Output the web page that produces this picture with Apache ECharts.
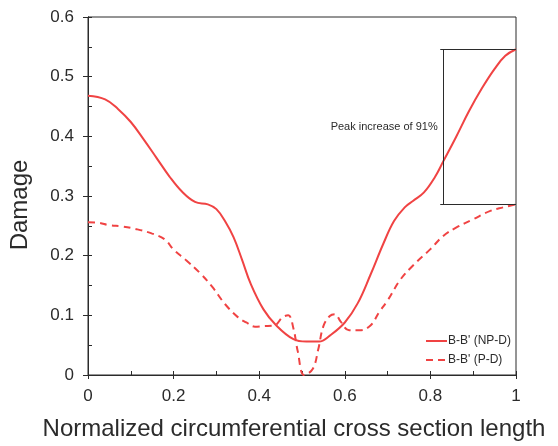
<!DOCTYPE html>
<html>
<head>
<meta charset="utf-8">
<script src="https://cdn.jsdelivr.net/npm/echarts@6/dist/echarts.min.js"></script>
<style>
  html, body { margin: 0; padding: 0; background: #fff; }
  #chart { width: 558px; height: 446px; }
</style>
</head>
<body>
<div id="chart"></div>
<script>
// Damage along the normalized circumferential cross section [x, damage]
const npdPoints = [
  [0, 0.468], [0.04, 0.462], [0.07, 0.446], [0.1, 0.424], [0.13, 0.395],
  [0.16, 0.364], [0.19, 0.333], [0.22, 0.307], [0.25, 0.29], [0.28, 0.286],
  [0.3, 0.278], [0.32, 0.258], [0.34, 0.231], [0.36, 0.193], [0.38, 0.153],
  [0.41, 0.11], [0.44, 0.083], [0.48, 0.06], [0.51, 0.056], [0.54, 0.056],
  [0.565, 0.066], [0.6, 0.088], [0.63, 0.12], [0.66, 0.168], [0.69, 0.22],
  [0.715, 0.258], [0.74, 0.281], [0.76, 0.292], [0.785, 0.306], [0.81, 0.331],
  [0.83, 0.358], [0.86, 0.399], [0.89, 0.442], [0.92, 0.48], [0.95, 0.513],
  [0.975, 0.535], [1.0, 0.546]
];
const pdPoints = [
  [0, 0.256], [0.025, 0.255], [0.05, 0.251], [0.08, 0.249], [0.11, 0.245],
  [0.15, 0.237], [0.18, 0.227], [0.2, 0.21], [0.23, 0.192], [0.26, 0.172],
  [0.29, 0.148], [0.32, 0.119], [0.35, 0.097], [0.37, 0.088], [0.39, 0.081],
  [0.41, 0.082], [0.435, 0.083], [0.455, 0.097], [0.468, 0.1], [0.48, 0.078],
  [0.49, 0.04], [0.505, 0], [0.525, 0.01], [0.538, 0.043], [0.55, 0.082],
  [0.565, 0.099], [0.577, 0.102], [0.59, 0.09], [0.61, 0.075], [0.635, 0.075],
  [0.66, 0.083], [0.68, 0.105], [0.7, 0.125], [0.73, 0.16], [0.76, 0.184],
  [0.8, 0.211], [0.83, 0.233], [0.86, 0.247], [0.9, 0.261], [0.94, 0.275],
  [0.97, 0.281], [1.0, 0.286]
];
const seriesNames = ["B-B' (NP-D)", "B-B' (P-D)"];

// Peak comparison bracket
const peakNPD = 0.546;
const peakPD = 0.286;
const bracketX = 0.831;
const bracketCapX = 0.823;
const peakLabel = 'Peak increase of 91%';

const xTicks = [0, 0.2, 0.4, 0.6, 0.8, 1];
const yTicks = [0, 0.1, 0.2, 0.3, 0.4, 0.5, 0.6];

const RED = '#f04343';
const INK = '#2b2b2b';
const FONT = "'Liberation Sans', Arial, Helvetica, sans-serif";

const chart = echarts.init(document.getElementById('chart'), null, { renderer: 'canvas' });

const baseX = {
  type: 'value', min: xTicks[0], max: xTicks[xTicks.length - 1], interval: 0.2,
  splitLine: { show: false },
  axisLine: { show: true, lineStyle: { color: INK, width: 1 } }
};
const baseY = {
  type: 'value', min: yTicks[0], max: yTicks[yTicks.length - 1], interval: 0.1,
  splitLine: { show: false },
  axisLine: { show: true, lineStyle: { color: INK, width: 1 } }
};

chart.setOption({
  animation: false,
  backgroundColor: '#fff',
  textStyle: { fontFamily: FONT },
  grid: {
    left: 88, right: 42, top: 17, bottom: 70,
    show: true, borderColor: INK, borderWidth: 1, backgroundColor: 'transparent'
  },
  legend: {
    left: 420, top: 330, orient: 'vertical',
    itemWidth: 21, itemHeight: 12, itemGap: 7,
    itemStyle: { opacity: 0, borderWidth: 0 },
    textStyle: { fontSize: 12, color: INK, fontFamily: FONT, padding: [0, 0, 0, -4] },
    data: seriesNames
  },
  xAxis: [
    Object.assign({}, baseX, {
      name: 'Normalized circumferential cross section length',
      nameLocation: 'middle', nameGap: 42,
      nameTextStyle: { fontSize: 24, color: INK, fontFamily: FONT, padding: [0, 16, 0, 0] },
      axisTick: { show: true, inside: false, length: 4, lineStyle: { color: INK } },
      axisLabel: { fontSize: 17, color: INK, margin: 13, fontFamily: FONT,
        formatter: v => String(xTicks.find(t => Math.abs(t - v) < 1e-9) ?? v) }
    }),
    Object.assign({}, baseX, {
      position: 'bottom',
      axisTick: { show: true, inside: true, length: 4, lineStyle: { color: INK } },
      minorTick: { show: true, splitNumber: 2, length: 4, lineStyle: { color: INK } },
      axisLabel: { show: false }
    })
  ],
  yAxis: [
    Object.assign({}, baseY, {
      name: 'Damage',
      nameLocation: 'middle', nameGap: 56,
      nameTextStyle: { fontSize: 24, color: INK, fontFamily: FONT, padding: [0, 18, 0, 0] },
      axisTick: { show: true, inside: false, length: 5, lineStyle: { color: INK } },
      axisLabel: { fontSize: 17, color: INK, margin: 14, fontFamily: FONT,
        formatter: v => String(yTicks.find(t => Math.abs(t - v) < 1e-9) ?? v) }
    }),
    Object.assign({}, baseY, {
      position: 'left',
      axisTick: { show: true, inside: true, length: 4, lineStyle: { color: INK } },
      minorTick: { show: true, splitNumber: 2, length: 4, lineStyle: { color: INK } },
      axisLabel: { show: false }
    })
  ],
  series: [
    {
      name: seriesNames[0], type: 'line', data: npdPoints,
      smooth: 0.4, symbol: 'none',
      lineStyle: { color: RED, width: 2 }, itemStyle: { color: RED },
      z: 3,
      markLine: {
        silent: true, symbol: 'none',
        lineStyle: { color: INK, width: 1, type: 'solid' },
        label: { show: false },
        data: [
          [{ coord: [bracketCapX, peakNPD] }, { coord: [1, peakNPD] }],
          [{ coord: [bracketCapX, peakPD] }, { coord: [1, peakPD] }],
          [{ coord: [bracketX, peakPD] }, { coord: [bracketX, peakNPD] }]
        ]
      },
      markPoint: {
        silent: true, symbol: 'circle', symbolSize: 0,
        label: {
          show: true, position: 'left', distance: 6,
          fontSize: 11, color: INK, fontFamily: FONT,
          formatter: peakLabel
        },
        data: [{ coord: [bracketX, (peakNPD + peakPD) / 2] }]
      }
    },
    {
      name: seriesNames[1], type: 'line', data: pdPoints,
      smooth: 0.4, symbol: 'none',
      lineStyle: { color: RED, width: 2, type: [7, 5] }, itemStyle: { color: RED },
      z: 3
    }
  ]
});
</script>
</body>
</html>
